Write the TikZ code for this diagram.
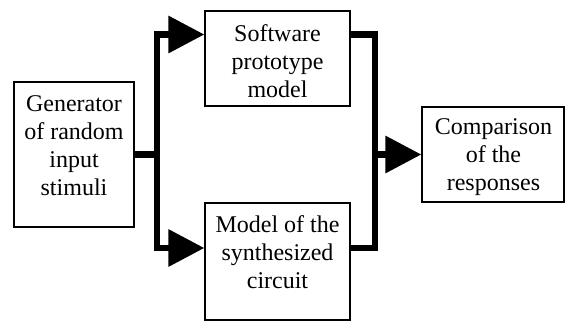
\documentclass[tikz,border=0pt]{standalone}
\usepackage{fontspec}
\setmainfont{Liberation Serif}
\newfontfamily\boxfont{Liberation Serif}
\usetikzlibrary{arrows.meta}
\begin{document}
\begin{tikzpicture}[x=1pt,y=-1pt,
  box/.style={draw,line width=1.3pt,inner sep=0pt,rectangle},
  txt/.style={anchor=north,inner sep=0pt,align=center,font=\boxfont\fontsize{24}{28}\selectfont},
  bus/.style={line width=6.5pt},
  busarrow/.style={line width=6.5pt,-{Triangle[length=36pt,width=36pt]}}]
\useasboundingbox (0,0) rectangle (565,322);
% boxes
\node[box,minimum width=120pt,minimum height=145pt] (gen) at (74,154.5) {};
\node[box,minimum width=145pt,minimum height=95pt] (sw) at (277.5,58.5) {};
\node[box,minimum width=145pt,minimum height=117pt] (mod) at (277.5,261.5) {};
\node[box,minimum width=142pt,minimum height=95pt] (cmp) at (493,154.5) {};
% texts
\node[txt] (genT) at (74,95) {Generator\\of random\\input\\stimuli};
\node[txt] (swT) at (277.5,24) {Software\\prototype\\model};
\node[txt] (modT) at (277.5,215) {Model of the\\synthesized\\circuit};
\node[txt] (cmpT) at (493.5,118) {Comparison\\of the\\responses};
% connection points
\coordinate (bl) at (157,154.5);
\coordinate (swin) at (sw.west |- 0,34.5);
\coordinate (modin) at (mod.west |- 0,248);
\coordinate (swout) at (sw.east |- 0,34.5);
\coordinate (modout) at (mod.east |- 0,248);
\coordinate (br) at (375,154.5);
% connectors
\draw[bus] (gen.east) -- (bl);
\draw[busarrow] (bl) |- (swin);
\draw[busarrow] (bl) |- (modin);
\draw[bus] (swout) -| (br);
\draw[bus] (modout) -| (br);
\draw[busarrow] (br) -- (cmp.west);
\end{tikzpicture}
\end{document}
